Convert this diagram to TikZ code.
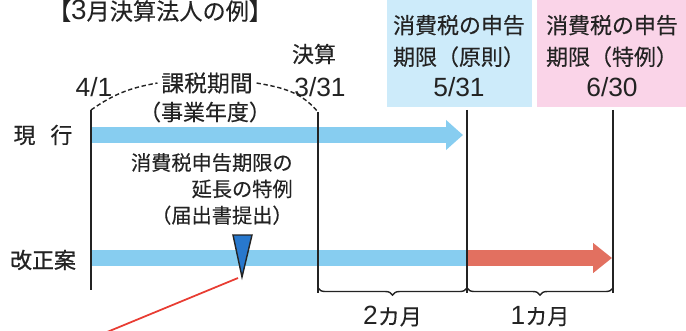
\documentclass[tikz,border=0pt]{standalone}
\usepackage{fontspec}
\setmainfont{Noto Sans CJK JP}[FakeBold=0.25]
\newfontfamily\jpheavy[FakeBold=0.9]{Noto Sans CJK JP}
\newfontfamily\latinfont[Scale=1.2]{Liberation Sans}
\newcommand{\digits}[1]{{\latinfont #1}}
\usetikzlibrary{arrows.meta, positioning, decorations.pathreplacing}
\definecolor{barblue}{RGB}{135, 205, 240}
\definecolor{boxblue}{RGB}{205, 235, 250}
\definecolor{boxpink}{RGB}{250, 212, 232}
\definecolor{extred}{RGB}{226, 112, 96}
\definecolor{markblue}{RGB}{40, 120, 205}
\definecolor{linered}{RGB}{232, 60, 50}
\definecolor{inkgray}{RGB}{35, 35, 35}

\tikzset{
  lbl/.style={font=\fontsize{12.5}{16}\selectfont, text=inkgray, inner sep=0pt},
  datelbl/.style={lbl, align=center, font=\fontsize{12.5}{18}\selectfont},
  dayline/.style={line width=1.6pt, draw=inkgray},
  bar/.style={line width=9pt},
  arcline/.style={inkgray, line width=0.8pt, dash pattern=on 2.5pt off 1.5pt},
  period/.style={decorate, decoration={brace, mirror, amplitude=4pt}, line width=0.8pt, draw=inkgray},
}

\begin{document}
\begin{tikzpicture}[x=0.02cm, y=-0.02cm]
  \useasboundingbox (0,0) rectangle (686,331);

  % Deadline boxes
  \fill[boxblue] (387,-5) rectangle (532,107);
  \fill[boxpink] (537,-5) rectangle (686,107);
  \node[datelbl] (gensoku) at (459,56) {消費税の申告\\期限（原則）\\\digits{5/31}};
  \node[datelbl] (tokurei) at (612,56) {消費税の申告\\期限（特例）\\\digits{6/30}};

  % Title and dates
  \node[lbl, font=\fontsize{13.2}{16}\selectfont] (title) at (160,11) {【\digits{3}月決算法人の例】};
  \node[lbl] (apr) at (94,87) {\digits{4/1}};
  \node[lbl] (kessan) at (314,54) {決算};
  \node[lbl] (mar) at (320,87) {\digits{3/31}};
  \node[lbl, font=\fontsize{13}{16}\selectfont] (kikan) at (207,83) {課税期間};
  \node[lbl] (jigyo) at (205,112) {（事業年度）};

  % Row labels
  \node[lbl] (genko) at (43,135) {現\hspace{0.3cm}行};
  \node[lbl, font=\jpheavy\fontsize{12.5}{16}\selectfont] (kaisei) at (43,260) {改正案};
  \node[lbl, align=right, anchor=east, font=\fontsize{11.5}{15}\selectfont] (note) at (293,189)
    {消費税申告期限の\\延長の特例\\（届出書提出）};

  % Time line coordinates
  \coordinate (aprtop) at (91,110);
  \coordinate (aprbot) at (91,290);
  \coordinate (martop) at (318,112);
  \coordinate (marbot) at (318,293);
  \coordinate (maytop) at (467,110);
  \coordinate (maybot) at (467,293);
  \coordinate (juntop) at (613,110);
  \coordinate (junbot) at (613,293);

  % Bars
  \coordinate (genS) at (91,135);
  \coordinate (genE) at (463,135);
  \coordinate (kaiS) at (91,258);
  \coordinate (kaiM) at (467,258);
  \coordinate (kaiE) at (612,258);
  \draw[bar, barblue, -{Triangle[length=0.34cm, width=0.58cm]}] (genS) -- (genE);
  \draw[bar, barblue] (kaiS) -- (kaiM);
  \draw[bar, extred, -{Triangle[length=0.38cm, width=0.58cm]}] (kaiM) -- (kaiE);

  % Vertical lines
  \draw[dayline] (aprtop) -- (aprbot);
  \draw[dayline] (martop) -- (marbot);
  \draw[dayline] (maytop) -- (maybot);
  \draw[dayline] (juntop) -- (junbot);

  % Fiscal period arc
  \draw[arcline] (aprtop) to[out=35, in=190] ([xshift=-2pt]kikan.west);
  \draw[arcline] ([xshift=2pt]kikan.east) to[out=-10, in=130] (martop);

  % Filing marker
  \coordinate (tip) at (242,277);
  \coordinate (leader) at (95,337);
  \filldraw[fill=markblue, draw=inkgray, line width=0.8pt] (233,235) -- (252,235) -- (tip) -- cycle;
  \draw[linered, line width=1pt] (238,278) -- (leader);

  % Month braces
  \coordinate (b1) at (318,288);
  \coordinate (b2) at (467,288);
  \coordinate (b3) at (613,288);
  \draw[period] (b1) -- (b2) node[lbl, midway, below=10pt] (two) {\digits{2}カ月};
  \draw[period] (b2) -- (b3) node[lbl, midway, below=10pt] (one) {\digits{1}カ月};
\end{tikzpicture}
\end{document}
